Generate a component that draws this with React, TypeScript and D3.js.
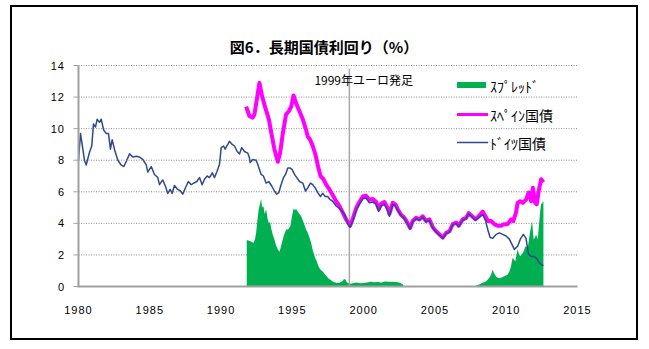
import React from "react";
import * as d3 from "d3";

// Long-term government bond yields (%), [decimal year, yield]
const germany: [number, number][] = [
  [1980.0, 8.0], [1980.14, 9.7], [1980.42, 8.0], [1980.54, 7.7], [1980.77, 8.5], [1980.93, 8.9],
  [1981.05, 10.3], [1981.19, 10.1], [1981.31, 10.6], [1981.47, 10.4], [1981.59, 10.6], [1981.77, 9.9],
  [1981.94, 9.7], [1982.1, 9.7], [1982.24, 8.7], [1982.36, 9.3], [1982.52, 8.7], [1982.76, 8.0],
  [1982.99, 7.7], [1983.18, 7.6], [1983.39, 8.0], [1983.58, 8.4], [1983.81, 8.2], [1984.05, 8.25],
  [1984.28, 8.2], [1984.51, 8.05], [1984.75, 7.7], [1984.86, 7.25], [1985.1, 7.6], [1985.33, 7.1],
  [1985.56, 6.9], [1985.68, 6.45], [1985.91, 6.75], [1986.1, 6.35], [1986.26, 5.9], [1986.43, 6.15],
  [1986.57, 5.9], [1986.73, 6.4], [1986.96, 6.15], [1987.15, 6.05], [1987.31, 5.85], [1987.55, 6.35],
  [1987.71, 6.65], [1987.9, 6.45], [1988.09, 6.55], [1988.3, 6.65], [1988.49, 6.9], [1988.67, 6.45],
  [1988.84, 6.8], [1989.02, 7.0], [1989.19, 6.9], [1989.38, 7.2], [1989.54, 6.9], [1989.72, 7.3],
  [1989.89, 7.75], [1990.01, 8.8], [1990.17, 8.9], [1990.29, 8.7], [1990.4, 8.9], [1990.59, 9.2],
  [1990.78, 9.0], [1990.94, 8.9], [1991.13, 8.55], [1991.29, 8.4], [1991.45, 8.8], [1991.64, 8.55],
  [1991.87, 8.45], [1991.99, 8.15], [1992.04, 7.85], [1992.22, 8.05], [1992.46, 8.0], [1992.57, 7.75],
  [1992.81, 7.1], [1992.97, 7.0], [1993.16, 6.55], [1993.35, 6.65], [1993.56, 6.35], [1993.74, 6.05],
  [1993.9, 5.85], [1994.05, 5.95], [1994.21, 6.45], [1994.38, 6.9], [1994.52, 7.1], [1994.68, 7.5],
  [1994.85, 7.5], [1994.99, 7.4], [1995.15, 7.1], [1995.31, 6.9], [1995.5, 6.65], [1995.73, 6.55],
  [1995.92, 6.05], [1996.08, 6.25], [1996.27, 6.55], [1996.43, 6.45], [1996.6, 6.25], [1996.78, 5.95],
  [1996.97, 5.7], [1997.13, 5.9], [1997.3, 5.7], [1997.48, 5.7], [1997.65, 5.5], [1997.83, 5.4],
  [1998.07, 5.1], [1998.3, 4.95], [1998.5, 4.75], [1998.7, 4.5], [1998.88, 3.95], [1999.05, 3.75],
  [1999.24, 4.15], [1999.47, 4.8], [1999.7, 5.2], [1999.94, 5.55], [2000.17, 5.6], [2000.4, 5.3],
  [2000.64, 5.35], [2000.88, 5.2], [2001.06, 4.75], [2001.23, 5.1], [2001.46, 5.2], [2001.69, 4.8],
  [2001.81, 4.45], [2002.04, 5.2], [2002.23, 5.1], [2002.39, 4.8], [2002.62, 4.5], [2002.86, 4.3],
  [2003.09, 3.95], [2003.26, 3.65], [2003.44, 4.1], [2003.68, 4.3], [2003.91, 4.2], [2004.14, 4.4],
  [2004.38, 4.1], [2004.61, 4.2], [2004.85, 3.7], [2005.08, 3.45], [2005.32, 3.25], [2005.55, 3.05],
  [2005.79, 3.35], [2006.02, 3.45], [2006.25, 3.9], [2006.49, 4.0], [2006.67, 3.8], [2006.95, 4.2],
  [2007.19, 4.3], [2007.37, 4.6], [2007.61, 4.4], [2007.84, 4.2], [2008.07, 4.35], [2008.35, 4.55],
  [2008.54, 4.2], [2008.71, 3.6], [2008.87, 3.1], [2009.05, 3.05], [2009.29, 3.3], [2009.52, 3.4],
  [2009.75, 3.3], [2009.99, 3.2], [2010.22, 3.0], [2010.41, 2.65], [2010.57, 2.35], [2010.8, 2.55],
  [2010.99, 3.0], [2011.2, 3.3], [2011.39, 3.05], [2011.56, 2.05], [2011.75, 1.9], [2011.98, 1.9],
  [2012.14, 1.75], [2012.33, 1.5], [2012.52, 1.35], [2012.61, 1.35],
];

const spain: [number, number][] = [
  [1991.76, 11.4], [1991.99, 10.8], [1992.22, 10.7], [1992.34, 10.9], [1992.5, 11.8], [1992.69, 12.9],
  [1992.88, 12.05], [1993.11, 11.3], [1993.35, 10.6], [1993.51, 9.8], [1993.74, 8.7], [1993.98, 7.9],
  [1994.14, 8.45], [1994.33, 9.7], [1994.56, 10.9], [1994.75, 11.1], [1994.92, 11.4], [1995.08, 12.1],
  [1995.27, 11.6], [1995.5, 11.1], [1995.73, 10.6], [1995.97, 9.9], [1996.08, 9.5], [1996.25, 9.3],
  [1996.43, 8.9], [1996.62, 8.35], [1996.78, 7.7], [1996.97, 7.0], [1997.18, 6.8], [1997.37, 6.45],
  [1997.6, 6.15], [1997.83, 5.8], [1998.07, 5.4], [1998.3, 5.1], [1998.53, 4.7], [1998.77, 4.25],
  [1998.96, 4.0], [1999.05, 3.85], [1999.24, 4.3], [1999.47, 4.95], [1999.7, 5.35], [1999.94, 5.7],
  [2000.17, 5.75], [2000.4, 5.5], [2000.64, 5.55], [2000.88, 5.35], [2001.06, 4.9], [2001.23, 5.25],
  [2001.46, 5.35], [2001.69, 4.95], [2001.81, 4.6], [2002.04, 5.3], [2002.23, 5.2], [2002.39, 4.9],
  [2002.62, 4.55], [2002.86, 4.35], [2003.09, 4.0], [2003.26, 3.7], [2003.44, 4.15], [2003.68, 4.35],
  [2003.91, 4.25], [2004.14, 4.45], [2004.38, 4.15], [2004.61, 4.25], [2004.85, 3.75], [2005.08, 3.5],
  [2005.32, 3.3], [2005.55, 3.1], [2005.79, 3.4], [2006.02, 3.5], [2006.25, 3.95], [2006.49, 4.05],
  [2006.67, 3.85], [2006.95, 4.25], [2007.19, 4.35], [2007.37, 4.65], [2007.61, 4.45], [2007.84, 4.25],
  [2008.07, 4.45], [2008.35, 4.75], [2008.54, 4.45], [2008.71, 4.15], [2008.94, 4.15], [2009.17, 3.95],
  [2009.4, 3.85], [2009.64, 3.85], [2009.87, 3.95], [2010.1, 3.95], [2010.34, 4.25], [2010.5, 4.15],
  [2010.69, 4.7], [2010.8, 5.3], [2010.97, 5.4], [2011.16, 5.3], [2011.39, 5.5], [2011.58, 5.95],
  [2011.75, 5.4], [2011.87, 6.25], [2012.03, 5.3], [2012.14, 5.2], [2012.28, 6.05], [2012.45, 6.8],
  [2012.61, 6.6],
];

const spread: [number, number][] = [
  [1991.8, 2.95], [1991.95, 2.9], [1992.1, 2.85], [1992.27, 2.75], [1992.38, 3.0], [1992.46, 3.4],
  [1992.55, 4.2], [1992.64, 4.9], [1992.72, 5.2], [1992.81, 5.55], [1992.88, 5.0], [1992.97, 5.1],
  [1993.06, 4.6], [1993.16, 4.9], [1993.26, 4.3], [1993.35, 4.0], [1993.43, 4.1], [1993.51, 3.7],
  [1993.62, 3.3], [1993.74, 3.0], [1993.86, 2.6], [1993.98, 2.35], [1994.1, 2.2], [1994.22, 2.6],
  [1994.33, 3.0], [1994.43, 3.3], [1994.52, 3.5], [1994.6, 3.65], [1994.68, 3.6], [1994.77, 3.7],
  [1994.85, 3.8], [1994.95, 4.3], [1995.03, 4.7], [1995.1, 4.95], [1995.17, 4.85], [1995.27, 4.9],
  [1995.38, 4.75], [1995.5, 4.6], [1995.62, 4.45], [1995.73, 4.2], [1995.85, 3.9], [1995.97, 3.6],
  [1996.08, 3.4], [1996.2, 3.1], [1996.32, 2.75], [1996.4, 2.4], [1996.48, 2.15], [1996.6, 1.8],
  [1996.71, 1.6], [1996.82, 1.3], [1996.95, 1.1], [1997.06, 1.0], [1997.18, 0.9], [1997.3, 0.75],
  [1997.41, 0.65], [1997.53, 0.5], [1997.65, 0.45], [1997.8, 0.33], [1997.95, 0.27], [1998.1, 0.24],
  [1998.26, 0.22], [1998.4, 0.28], [1998.53, 0.35], [1998.62, 0.48], [1998.72, 0.45], [1998.8, 0.3],
  [1998.89, 0.22], [1999.1, 0.18], [1999.3, 0.22], [1999.5, 0.25], [1999.75, 0.2], [2000.0, 0.22],
  [2000.25, 0.26], [2000.5, 0.3], [2000.75, 0.27], [2001.0, 0.28], [2001.25, 0.25], [2001.5, 0.32],
  [2001.75, 0.3], [2002.0, 0.3], [2002.25, 0.28], [2002.5, 0.25], [2002.75, 0.15], [2002.8, 0],
  [2007.85, 0], [2007.9, 0.06], [2008.1, 0.12], [2008.35, 0.23], [2008.55, 0.3], [2008.71, 0.44],
  [2008.85, 0.6], [2008.94, 0.76], [2009.05, 1.08], [2009.12, 0.9], [2009.2, 0.76], [2009.3, 0.62],
  [2009.4, 0.55], [2009.52, 0.52], [2009.64, 0.55], [2009.75, 0.6], [2009.87, 0.65], [2009.98, 0.7],
  [2010.1, 0.76], [2010.22, 0.95], [2010.34, 1.29], [2010.4, 1.6], [2010.45, 1.82], [2010.55, 1.7],
  [2010.64, 1.6], [2010.72, 2.0], [2010.8, 2.34], [2010.88, 2.1], [2010.97, 1.92], [2011.06, 2.0],
  [2011.16, 2.13], [2011.25, 2.3], [2011.35, 2.55], [2011.43, 2.5], [2011.51, 2.45], [2011.6, 3.0],
  [2011.68, 3.5], [2011.75, 3.8], [2011.82, 4.14], [2011.88, 3.4], [2011.93, 2.98], [2012.02, 3.1],
  [2012.1, 3.29], [2012.16, 3.1], [2012.21, 2.98], [2012.27, 3.6], [2012.33, 4.24], [2012.4, 4.9],
  [2012.45, 5.3], [2012.5, 5.2], [2012.56, 5.4], [2012.61, 5.35],
];

const xTicks = [1980, 1985, 1990, 1995, 2000, 2005, 2010, 2015];
const yTicks = [0, 2, 4, 6, 8, 10, 12, 14];
const euroStart = 1999;

const title = "図6．長期国債利回り（%）";
const euroLabel = "1999年ユーロ発足";
const legendItems = ["ｽﾌﾟﾚｯﾄﾞ", "ｽﾍﾟｲﾝ国債", "ﾄﾞｲﾂ国債"];

const W = 649;
const H = 349;

const GREEN = "#00B050";
const MAGENTA = "#FF00FF";
const NAVY = "#2E4A8A";
const JP = "'Noto Sans CJK JP', sans-serif";
const NUM = "'Liberation Sans', Arial, sans-serif";

export default function App() {
  const x = d3.scaleLinear().domain([1980, 2015]).range([78.5, 577.5]);
  const y = d3.scaleLinear().domain([0, 14]).range([286.5, 65.5]);

  const line = d3
    .line<[number, number]>()
    .x((d) => x(d[0]))
    .y((d) => y(d[1]));

  const area = d3
    .area<[number, number]>()
    .x((d) => x(d[0]))
    .y0(y(0))
    .y1((d) => y(d[1]));

  const [x0, x1] = x.range();

  return (
    <svg
      width={W}
      height={H}
      style={{ position: "absolute", left: 0, top: 0, display: "block", background: "#fff" }}
    >
      <rect x={0} y={0} width={W} height={H} fill="#fff" />
      <rect x={11} y={6} width={626} height={333} fill="none" stroke="#000" strokeWidth={2} />

      <text
        x={324}
        y={46}
        textAnchor="middle"
        dominantBaseline="central"
        fontFamily={JP}
        fontSize={15}
        fontWeight="bold"
        fill="#000"
      >
        {title}
      </text>

      {/* horizontal gridlines */}
      {yTicks.filter((t) => t > 0).map((t) => (
        <line
          key={"g" + t}
          x1={x0}
          x2={x1}
          y1={y(t)}
          y2={y(t)}
          stroke="#8c8c8c"
          strokeWidth={1}
          strokeDasharray="1,1.5"
        />
      ))}

      {/* spread area */}
      <path d={area(spread) ?? ""} fill={GREEN} />

      {/* euro launch marker */}
      <line
        x1={x(euroStart)}
        x2={x(euroStart)}
        y1={y(13.8)}
        y2={y(0)}
        stroke="#a6a6a6"
        strokeWidth={1.5}
      />
      <text
        x={x(euroStart) - 35}
        y={79}
        textAnchor="start"
        dominantBaseline="central"
        fontFamily={JP}
        fontSize={12}
        fill="#000"
      >
        {euroLabel}
      </text>

      {/* yield lines */}
      <path d={line(spain) ?? ""} fill="none" stroke={MAGENTA} strokeWidth={4} strokeLinejoin="round" />
      <path d={line(germany) ?? ""} fill="none" stroke={NAVY} strokeWidth={1.5} strokeLinejoin="round" />

      {/* axes */}
      <line x1={x0} x2={x0} y1={y(14)} y2={y(0)} stroke="#a0a0a0" strokeWidth={2} />
      <line x1={x0 - 1} x2={x1} y1={y(0)} y2={y(0)} stroke="#a0a0a0" strokeWidth={2} />
      {yTicks.map((t) => (
        <g key={"y" + t}>
          <line x1={x0 - 5} x2={x0} y1={y(t)} y2={y(t)} stroke="#a0a0a0" strokeWidth={1} />
          <text
            x={65}
            y={y(t)}
            textAnchor="end"
            dominantBaseline="central"
            fontFamily={NUM}
            fontSize={11}
            letterSpacing={1}
            fill="#000"
          >
            {t}
          </text>
        </g>
      ))}
      {xTicks.map((t) => (
        <text
          key={"x" + t}
          x={x(t)}
          y={310}
          textAnchor="middle"
          dominantBaseline="central"
          fontFamily={NUM}
          fontSize={11}
          letterSpacing={1}
          fill="#000"
        >
          {t}
        </text>
      ))}

      {/* legend */}
      <rect x={457} y={82} width={29} height={6} fill={GREEN} />
      <line x1={457} x2={488} y1={114.5} y2={114.5} stroke={MAGENTA} strokeWidth={3} />
      <line x1={457} x2={488} y1={142.5} y2={142.5} stroke={NAVY} strokeWidth={1.5} />
      {legendItems.map((label, i) => (
        <text
          key={label}
          x={490}
          y={[86, 115, 143][i]}
          dominantBaseline="central"
          fontFamily={JP}
          fontSize={14}
          fill="#000"
        >
          {label}
        </text>
      ))}
    </svg>
  );
}
